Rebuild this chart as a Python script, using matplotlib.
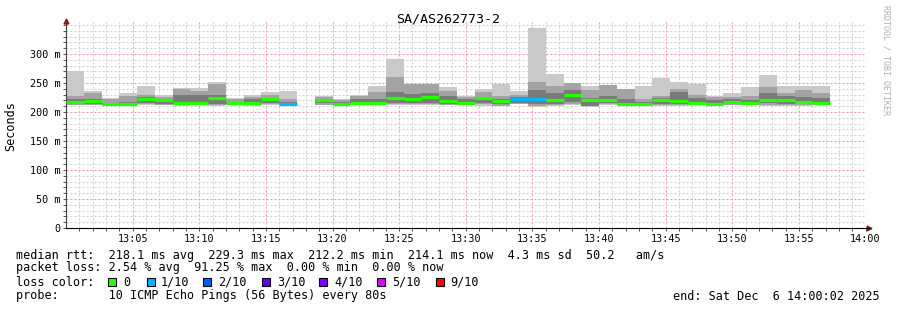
import numpy as np
import matplotlib
matplotlib.use("Agg")
import matplotlib.pyplot as plt

# smokeping style chart, 80s steps starting 13:00
title = "SA/AS262773-2"
step_s = 80

rtt_max = [271, 236, 225, 233, 244, 230, 242, 241, 252, 225, 230, 234, 237, np.nan,
           228, 222, 230, 245, 291, 249, 249, 243, 228, 240, 249, 236, 345, 265,
           250, 245, 247, 239, 245, 259, 252, 249, 228, 232, 243, 264, 245, 244, 244]
rtt_mid_hi = [228, 233, 222, 228, 229, 226, 239, 237, 248, 222, 226, 229, 222, np.nan,
              226, 221, 228, 235, 260, 249, 249, 236, 226, 234, 228, 230, 251, 245,
              250, 238, 247, 239, 222, 227, 240, 230, 226, 226, 228, 243, 232, 238, 232]
rtt_dark_hi = [222, 222, 216, 217, 226, 222, 230, 230, 230, 218, 222, 224, 218, np.nan,
               222, 218, 222, 222, 235, 231, 233, 228, 222, 226, 222, 226, 238, 232,
               238, 225, 228, 222, 218, 224, 235, 224, 220, 222, 220, 232, 228, 226, 224]
rtt_median = [216.5, 219, 213.5, 214.5, 223, 220, 215, 216, 224, 215, 215, 222, 214, np.nan,
              220.5, 214, 215, 216, 225, 222.5, 226, 219.5, 215.5, 223.5, 219.5, 223, 223, 220,
              230, 220.5, 220.5, 213, 213, 220, 218.5, 215, 213.5, 217, 215, 221, 221, 217, 215]
rtt_dark_lo = [213, 213, 212, 212.5, 215, 214, 213, 213, 214, 213, 213, 216, 213, np.nan,
               215, 212.5, 213, 213, 216, 215, 216, 214, 212.5, 215, 213, 216, 214, 214,
               218, 211, 215, 212, 212, 214, 213, 213, 212, 214, 213, 215, 213, 213, 213]
rtt_mid_lo = [212, 212, 211.5, 211.5, 213, 212, 212, 212, 212, 212, 212, 213, 212, np.nan,
              212, 212, 212, 212, 213, 213, 213, 212, 212, 213, 211, 214, 211, 212,
              213, 210, 213, 211.5, 211.5, 212, 212, 212, 211.5, 212.5, 212, 212, 211.5, 212, 212]
rtt_min = [211.5, 211.5, 211, 211, 211.5, 211.5, 211, 211.5, 211, 211.5, 211, 211.5, 211, np.nan,
           211.5, 211, 211.5, 211.5, 211.5, 211.5, 211.5, 211.5, 211.5, 211, 210, 213.5, 209, 211,
           211.5, 209, 212, 211, 211, 211, 211, 211.5, 211, 212, 211.5, 211, 211, 211, 211.5]
lost = [0, 0, 0, 0, 0, 0, 0, 0, 0, 0, 0, 0, 1, 10,
        0, 0, 0, 0, 0, 0, 0, 0, 0, 0, 0, 1, 1, 0,
        0, 0, 0, 0, 0, 0, 0, 0, 0, 0, 0, 0, 0, 0, 0]

loss_keys = [0, 1, 2, 3, 4, 5, 9]
loss_labels = ["0", "1/10", "2/10", "3/10", "4/10", "5/10", "9/10"]
loss_cols = ["#26ff00", "#00b8ff", "#0059ff", "#5e00ff", "#7e00ff", "#dd00ff", "#ff0000"]

xticks = [5, 10, 15, 20, 25, 30, 35, 40, 45, 50, 55, 60]
xlabels = ["13:05", "13:10", "13:15", "13:20", "13:25", "13:30", "13:35",
           "13:40", "13:45", "13:50", "13:55", "14:00"]
yticks = [0, 50, 100, 150, 200, 250, 300]
ylabels = ["0", "50 m", "100 m", "150 m", "200 m", "250 m", "300 m"]

legend_lines = [
    "median rtt:  218.1 ms avg  229.3 ms max  212.2 ms min  214.1 ms now  4.3 ms sd  50.2   am/s",
    "packet loss: 2.54 % avg  91.25 % max  0.00 % min  0.00 % now",
    "loss color:",
    "probe:       10 ICMP Echo Pings (56 Bytes) every 80s",
]
end_text = "end: Sat Dec  6 14:00:02 2025"

mono = "DejaVu Sans Mono"
W, H = 897, 310
fig = plt.figure(figsize=(W / 100, H / 100), dpi=100)
fig.patch.set_facecolor("white")
ax = fig.add_axes([66 / W, (H - 228) / H, 800 / W, 355 * 0.58 / H])

n = len(rtt_median)
width = step_s / 60.0
x = np.arange(n) * width
ok = ~np.isnan(np.array(rtt_median, dtype=float))

def band(lo, hi, color):
    lo = np.array(lo, dtype=float)[ok]
    hi = np.array(hi, dtype=float)[ok]
    ax.bar(x[ok], hi - lo, bottom=lo, width=width, align="edge",
           color=color, linewidth=0, zorder=2)

band(rtt_min, rtt_max, "#c9c9c9")
band(rtt_mid_lo, rtt_mid_hi, "#a3a3a3")
band(rtt_dark_lo, rtt_dark_hi, "#7a7a7a")

cmap = dict(zip(loss_keys, loss_cols))
med = np.array(rtt_median, dtype=float)
for i in np.where(ok)[0]:
    ax.hlines(med[i], x[i], x[i] + width, colors=cmap.get(lost[i], "#ff0000"),
              linewidth=2.3, zorder=4)

ax.set_xlim(0, 60.03)
ax.set_ylim(0, 355)
ax.set_xticks(xticks)
ax.set_xticklabels(xlabels, family=mono, fontsize=7.3)
ax.set_xticks(np.arange(1, 61), minor=True)
ax.set_yticks(yticks)
ax.set_yticklabels(ylabels, family=mono, fontsize=7.3)
ax.set_yticks(np.arange(10, 355, 10), minor=True)
ax.tick_params(which="both", direction="out", length=2, width=0.7, color="#555555", pad=2)

ax.set_axisbelow(True)
ax.grid(which="minor", color="#cfcfcf", linestyle=(0, (2, 2)), linewidth=0.72)
ax.grid(which="major", color="#f29a9a", linestyle=(0, (2, 2)), linewidth=0.72)

for s in ["top", "right"]:
    ax.spines[s].set_visible(False)
ax.spines["left"].set_color("#404040")
ax.spines["bottom"].set_color("#000000")
ax.spines["left"].set_linewidth(0.8)
ax.spines["bottom"].set_linewidth(0.8)
ax.spines["bottom"].set_bounds(0, 60.3)

# axis arrows
ax.plot([0], [1.005], marker="^", color="#8b1a1a", markersize=3.5, transform=ax.transAxes, clip_on=False)
ax.plot([1.004], [0], marker=">", color="#8b1a1a", markersize=3.5, transform=ax.transAxes, clip_on=False)

fig.text(448 / W, 1 - 19 / H, title, family=mono, fontsize=9.6, ha="center", va="center")
fig.text(11 / W, 1 - 126 / H, "Seconds", family=mono, fontsize=8.5, rotation=90,
         ha="center", va="center")
fig.text(886 / W, 1 - 5 / H, "RRDTOOL / TOBI OETIKER", family=mono, fontsize=6,
         rotation=270, ha="center", va="top", color="#b0b0b0")

rows_y = [255, 268, 282, 296]
for txt, yy in zip(legend_lines, rows_y):
    fig.text(16 / W, 1 - yy / H, txt, family=mono, fontsize=8.5, va="center")
fig.text(880 / W, 1 - 296 / H, end_text, family=mono, fontsize=8.5, va="center", ha="right")

sq_x = [108, 147, 203, 262, 319, 377, 436]
lab_x = [123, 161, 218, 277, 334, 392, 450]
for sx, lx, lab, col in zip(sq_x, lab_x, loss_labels, loss_cols):
    fig.patches.append(plt.Rectangle((sx / W, (H - 286) / H), 8 / W, 8 / H,
                                     transform=fig.transFigure, facecolor=col,
                                     edgecolor="black", linewidth=0.8))
    fig.text(lx / W, 1 - 282 / H, lab, family=mono, fontsize=8.5, va="center")

fig.savefig("out.png", dpi=100, facecolor="white")
